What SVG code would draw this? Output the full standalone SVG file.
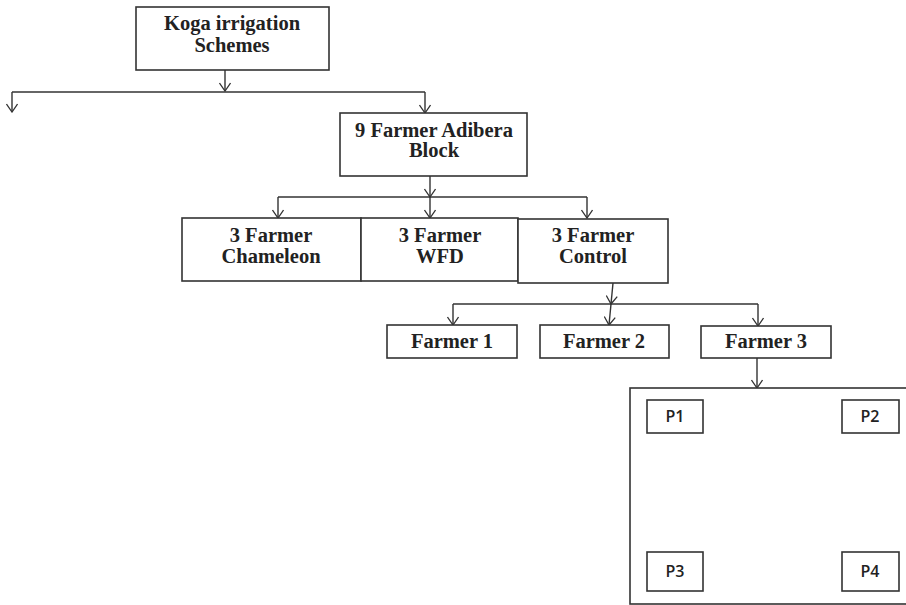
<svg xmlns="http://www.w3.org/2000/svg" width="906" height="605" viewBox="0 0 906 605">
<defs>
<marker id="arr" viewBox="0 0 12 12" refX="11" refY="6" markerWidth="12" markerHeight="12" markerUnits="userSpaceOnUse" orient="auto">
<path d="M3,0.5 L11,6 L3,11.5" fill="none" stroke="#333" stroke-width="1.3"/>
</marker>
<style>
.box{fill:#fff;stroke:#333;stroke-width:1.6}
.t{font-family:"Liberation Serif","Times New Roman",serif;font-weight:bold;font-size:20.5px;fill:#222;text-anchor:middle}
.p{font-family:"Open Sans","Liberation Sans",sans-serif;font-weight:600;font-size:16px;fill:#222;text-anchor:middle}
.c{fill:none;stroke:#333;stroke-width:1.4}
.a{marker-end:url(#arr)}
</style>
</defs>
<rect width="906" height="605" fill="#fff"/>
<g id="connectors">
<line class="c a" x1="225" y1="70" x2="225" y2="91"/>
<line class="c" x1="12" y1="92" x2="425" y2="92"/>
<line class="c a" x1="12" y1="92" x2="12" y2="112"/>
<line class="c a" x1="425" y1="92" x2="425" y2="113"/>
<line class="c a" x1="430" y1="176" x2="430" y2="197"/>
<line class="c" x1="278" y1="197" x2="587" y2="197"/>
<line class="c a" x1="278" y1="197" x2="278" y2="218"/>
<line class="c a" x1="430" y1="197" x2="430" y2="218"/>
<line class="c a" x1="587" y1="197" x2="587" y2="218"/>
<line class="c a" x1="613" y1="283" x2="611" y2="304"/>
<line class="c" x1="453" y1="304" x2="758" y2="304"/>
<line class="c a" x1="453" y1="304" x2="453" y2="325"/>
<line class="c a" x1="611" y1="304" x2="609" y2="325"/>
<line class="c a" x1="758" y1="304" x2="758" y2="326"/>
<line class="c a" x1="757" y1="358" x2="757" y2="388"/>
</g>
<g id="koga">
<rect class="box" x="136" y="7" width="193" height="63"/>
<text class="t" x="232" y="30">Koga irrigation</text>
<text class="t" x="232" y="52">Schemes</text>
</g>
<g id="adibera">
<rect class="box" x="340" y="113" width="187" height="63"/>
<text class="t" x="434" y="137">9 Farmer Adibera</text>
<text class="t" x="434" y="157">Block</text>
</g>
<g id="chameleon">
<rect class="box" x="182" y="218" width="179" height="63"/>
<text class="t" x="271" y="242">3 Farmer</text>
<text class="t" x="271" y="263">Chameleon</text>
</g>
<g id="wfd">
<rect class="box" x="361" y="218" width="157" height="63"/>
<text class="t" x="440" y="242">3 Farmer</text>
<text class="t" x="440" y="263">WFD</text>
</g>
<g id="control">
<rect class="box" x="518" y="219" width="150" height="64"/>
<text class="t" x="593" y="242">3 Farmer</text>
<text class="t" x="593" y="263">Control</text>
</g>
<g id="farmer1">
<rect class="box" x="387" y="325" width="130" height="33"/>
<text class="t" x="452" y="348">Farmer 1</text>
</g>
<g id="farmer2">
<rect class="box" x="540" y="325" width="129" height="33"/>
<text class="t" x="604" y="348">Farmer 2</text>
</g>
<g id="farmer3">
<rect class="box" x="701" y="326" width="130" height="32"/>
<text class="t" x="766" y="348">Farmer 3</text>
</g>
<g id="plots">
<rect class="box" x="630" y="388" width="290" height="216"/>
</g>
<g id="p1">
<rect class="box" x="647" y="400" width="56" height="33"/>
<text class="p" x="675" y="422">P1</text>
</g>
<g id="p2">
<rect class="box" x="842" y="400" width="57" height="33"/>
<text class="p" x="870" y="422">P2</text>
</g>
<g id="p3">
<rect class="box" x="647" y="552" width="56" height="39"/>
<text class="p" x="675" y="577">P3</text>
</g>
<g id="p4">
<rect class="box" x="842" y="552" width="57" height="39"/>
<text class="p" x="870" y="577">P4</text>
</g>
</svg>
